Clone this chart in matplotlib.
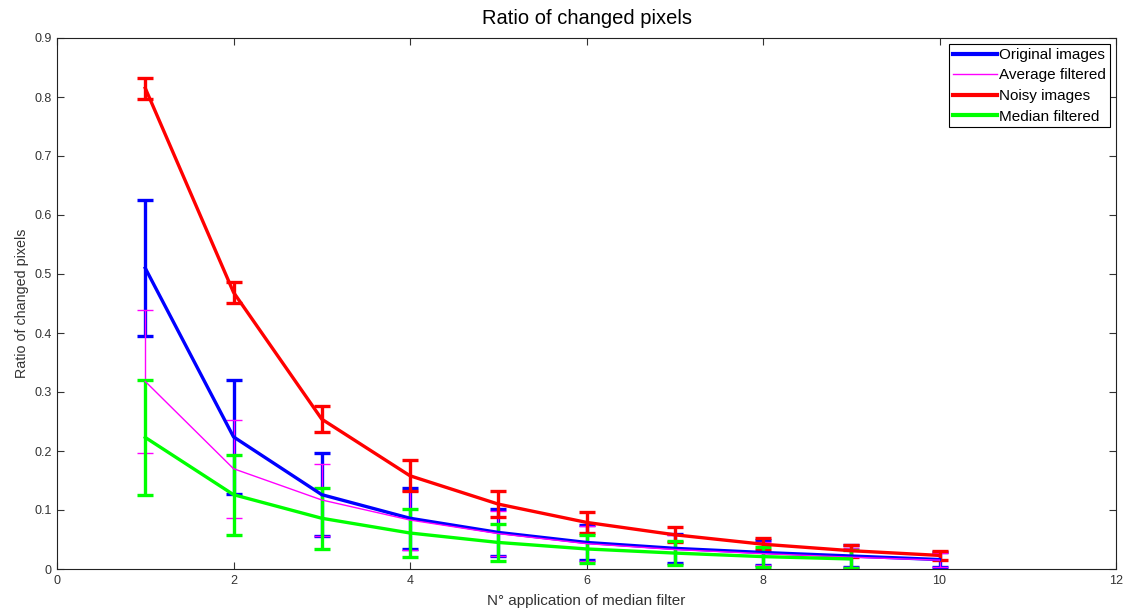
import numpy as np
import matplotlib
matplotlib.use("Agg")
import matplotlib.pyplot as plt
from matplotlib.lines import Line2D

plt.rcParams["font.family"] = ["Liberation Sans", "DejaVu Sans"]

# Medelvärde och standardavvikelse per antal filtreringar
steps = [1, 2, 3, 4, 5, 6, 7, 8, 9, 10]

orig_mean = [0.510, 0.224, 0.126, 0.086, 0.062, 0.045, 0.035, 0.028, 0.022, 0.016]
orig_err = [0.115, 0.097, 0.070, 0.052, 0.040, 0.030, 0.025, 0.022, 0.018, 0.013]

avg_mean = [0.318, 0.170, 0.117, 0.083, 0.060, 0.043, 0.033, 0.026, 0.020, 0.015]
avg_err = [0.121, 0.083, 0.061, 0.050, 0.038, 0.030, 0.025, 0.020, 0.016, 0.012]

noisy_mean = [0.815, 0.469, 0.254, 0.158, 0.110, 0.079, 0.058, 0.042, 0.031, 0.023]
noisy_err = [0.018, 0.018, 0.022, 0.026, 0.022, 0.018, 0.013, 0.010, 0.010, 0.008]

median_steps = [1, 2, 3, 4, 5, 6, 7, 8, 9]
median_mean = [0.223, 0.126, 0.086, 0.061, 0.045, 0.034, 0.027, 0.021, 0.017]
median_err = [0.098, 0.068, 0.052, 0.040, 0.031, 0.023, 0.020, 0.017, 0.015]

series = [
    ("Original images", steps, orig_mean, orig_err, "#0000ff", 2.4),
    ("Average filtered", steps, avg_mean, avg_err, "#ff00ff", 1.0),
    ("Noisy images", steps, noisy_mean, noisy_err, "#ff0000", 2.4),
    ("Median filtered", median_steps, median_mean, median_err, "#00ff00", 2.4),
]

W, H = 1128, 610
fig = plt.figure(figsize=(W / 100, H / 100), dpi=100)
ax = fig.add_axes([57 / W, 1 - 569 / H, (1116 - 57) / W, (569 - 38) / H])

handles = []
for label, x, y, err, color, lw in series:
    ax.errorbar(x, y, yerr=err, color=color, linewidth=lw, elinewidth=lw,
                capsize=6, capthick=lw)
    handles.append(Line2D([], [], color=color, linewidth=lw + 0.6 if lw > 1 else lw,
                          label=label))

ax.set_xlim(0, 12)
ax.set_ylim(0, 0.9)
ax.set_xticks(np.arange(0, 13, 2))
ax.set_yticks(np.arange(0, 0.91, 0.1))
ax.set_yticklabels(["0"] + [f"{v:.1f}" for v in np.arange(0.1, 0.91, 0.1)])
ax.tick_params(direction="in", top=True, right=True, labelsize=9, length=5,
               colors="#333333", labelcolor="#333333", pad=4)
for sp in ax.spines.values():
    sp.set_color("#222222")

fig.text(0.5 * (57 + 1116) / W, 1 - 18 / H, "Ratio of changed pixels",
         fontsize=14.5, ha="center", va="center")
ax.set_xlabel("N° application of median filter", fontsize=11, labelpad=5,
              color="#333333")
ax.set_ylabel("Ratio of changed pixels", fontsize=10.3, color="#333333", labelpad=3.5)

leg = ax.legend(handles=handles, loc="upper right", fontsize=11, fancybox=False,
                framealpha=1, edgecolor="black", handlelength=2.9,
                handletextpad=0.15, borderaxespad=0.4, labelspacing=0.43,
                borderpad=0.25)
leg.get_frame().set_linewidth(0.8)

fig.savefig("out.png", dpi=100)
